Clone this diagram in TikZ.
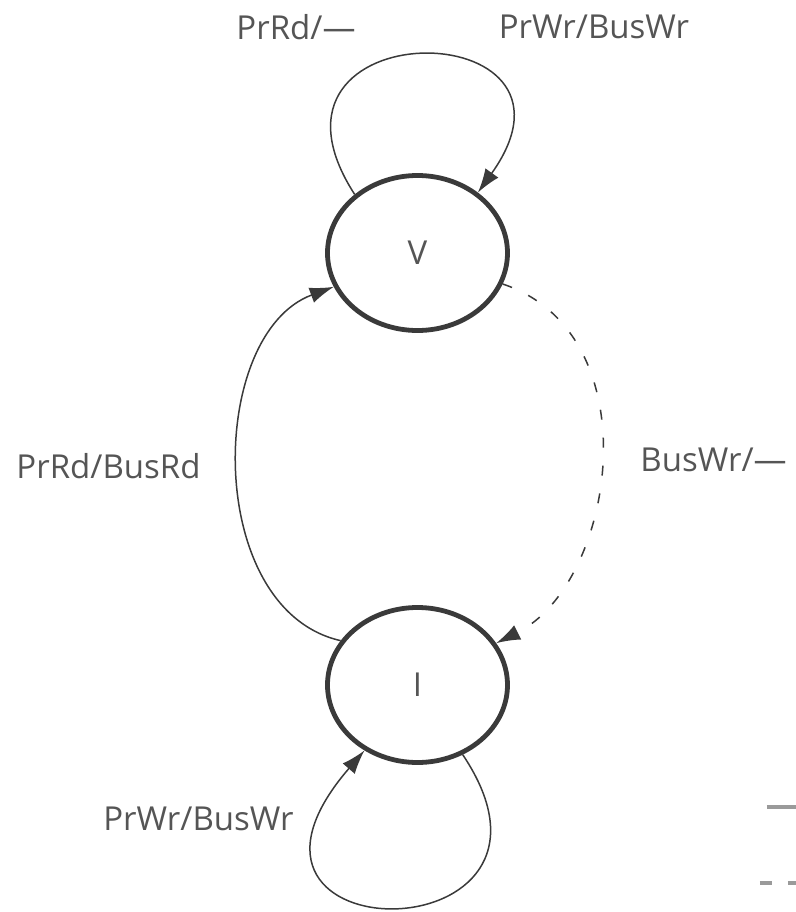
\documentclass[tikz,border=0pt]{standalone}
\usepackage{fontspec}
\setmainfont{Open Sans}
\usepackage{xcolor}
\usepackage{tikz}
\usetikzlibrary{calc, arrows.meta, shapes, positioning}
\definecolor{inkgray}{HTML}{555555}
\definecolor{linegray}{HTML}{3A3A3A}
\definecolor{keygray}{HTML}{9A9A9A}
\tikzset{
    statenode/.style = {draw=linegray, ellipse, line width=2.4pt, inner sep = 0em,
      minimum width=90pt, minimum height=77.5pt, node distance=0em, text=inkgray,
      font=\fontsize{16.5}{20}\selectfont},
    textnode/.style  = {draw=none, fill=none, rectangle, minimum size=0cm, inner sep = 0em,
      node distance=0em, text=inkgray, font=\fontsize{16.5}{20}\selectfont},
    connect/.style = {draw=linegray, line width=0.75pt, -{Latex[length=12pt, width=8pt]}},
    dashconnect/.style = {connect, dash pattern=on 5pt off 9pt},
    keyline/.style = {draw=keygray, line width=2pt},
    every text node part/.style={align=center}
}
\begin{document}
\begin{tikzpicture}
    \useasboundingbox (-208.75pt,-329.5pt) rectangle (189.25pt,126.5pt);

    \node [name=V, statenode] {V};
    \node [name=I, statenode, below of = V, yshift=-216pt] {I};

    \node [name=prrdnone, textnode, left of = V, xshift=-60.75pt, yshift=113pt] {PrRd/—};
    \node [name=prwrtop, textnode, right of = V, xshift=88.25pt, yshift=113pt] {PrWr/BusWr};
    \node [name=prrdbus, textnode, left of = V, xshift=-154.5pt, yshift=-106.5pt] {PrRd/BusRd};
    \node [name=buswr, textnode, right of = V, xshift=111.25pt, yshift=-103.5pt, anchor=west] {BusWr/—};
    \node [name=prwrbot, textnode, left of = I, xshift=-109.5pt, yshift=-67pt] {PrWr/BusWr};

    % self loops
    \draw [connect] (V.137) .. controls +(-60pt,93pt) and +(65pt,91pt) .. (V.45);
    \draw [connect] (I.-57) .. controls +(68pt,-101.5pt) and +(-90pt,-104pt) .. (I.-129);

    % I -> V and V -> I
    \draw [connect] (I.150) .. controls +(-68.5pt,15.5pt) and +(-63.5pt,-23.5pt) .. (V.202);
    \draw [dashconnect] (V.-20) .. controls +(75pt,-25pt) and +(60pt,30pt) .. (I.28);

    % key lines at the edge
    \coordinate (solidkey) at (174.75pt,-277pt);
    \coordinate (dashkey) at (171.25pt,-315pt);
    \draw [keyline] (solidkey) -- ++(40pt,0);
    \draw [keyline, dash pattern=on 6pt off 8pt] (dashkey) -- ++(40pt,0);
\end{tikzpicture}
\end{document}
